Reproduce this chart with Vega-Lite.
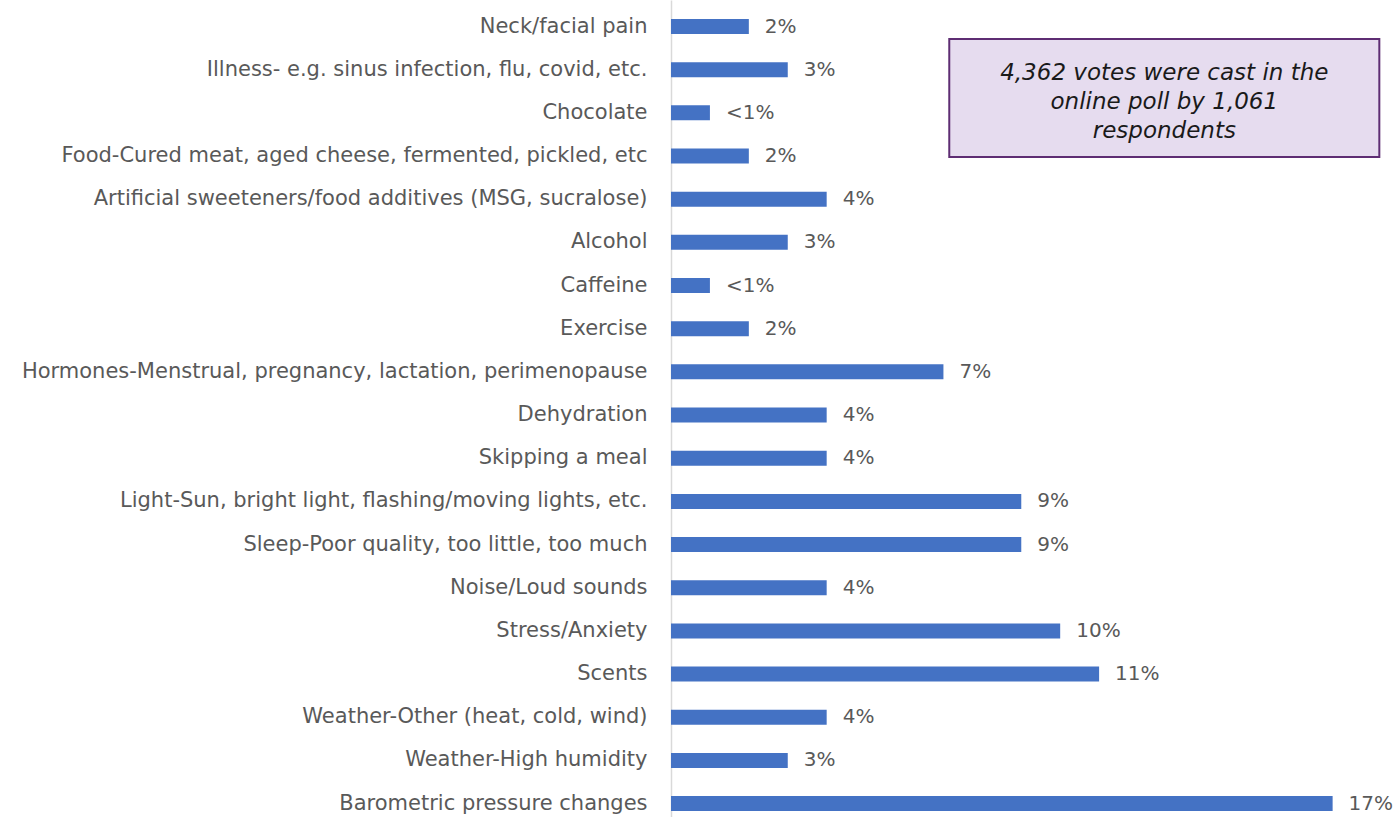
{
  "$schema": "https://vega.github.io/schema/vega-lite/v6.json",
  "width": 720,
  "height": 817,
  "autosize": {"type": "none"},
  "padding": {"left": 671, "top": 0, "right": 5, "bottom": 0},
  "background": "white",
  "config": {"view": {"stroke": null}, "font": "DejaVu Sans"},
  "datasets": {
    "causes": [
      {"cause": "Neck/facial pain", "value": 2, "label": "2%"},
      {"cause": "Illness- e.g. sinus infection, flu, covid, etc.", "value": 3, "label": "3%"},
      {"cause": "Chocolate", "value": 1, "label": "<1%"},
      {"cause": "Food-Cured meat, aged cheese, fermented, pickled, etc", "value": 2, "label": "2%"},
      {"cause": "Artificial sweeteners/food additives (MSG, sucralose)", "value": 4, "label": "4%"},
      {"cause": "Alcohol", "value": 3, "label": "3%"},
      {"cause": "Caffeine", "value": 1, "label": "<1%"},
      {"cause": "Exercise", "value": 2, "label": "2%"},
      {"cause": "Hormones-Menstrual, pregnancy, lactation, perimenopause", "value": 7, "label": "7%"},
      {"cause": "Dehydration", "value": 4, "label": "4%"},
      {"cause": "Skipping a meal", "value": 4, "label": "4%"},
      {"cause": "Light-Sun, bright light, flashing/moving lights, etc.", "value": 9, "label": "9%"},
      {"cause": "Sleep-Poor quality, too little, too much", "value": 9, "label": "9%"},
      {"cause": "Noise/Loud sounds", "value": 4, "label": "4%"},
      {"cause": "Stress/Anxiety", "value": 10, "label": "10%"},
      {"cause": "Scents", "value": 11, "label": "11%"},
      {"cause": "Weather-Other (heat, cold, wind)", "value": 4, "label": "4%"},
      {"cause": "Weather-High humidity", "value": 3, "label": "3%"},
      {"cause": "Barometric pressure changes", "value": 17, "label": "17%"}
    ],
    "note": [
      {"x1": 7.15, "x2": 18.2, "xm": 12.675, "y1": 0.29, "y2": 3.02, "ym": 1.239, "text": "4,362 votes were cast in the\nonline poll by 1,061\nrespondents"}
    ]
  },
  "layer": [
    {
      "data": {"name": "causes"},
      "layer": [
        {
          "mark": {"type": "bar", "color": "#4472C4"},
          "encoding": {
            "y": {
              "field": "cause", "type": "nominal", "sort": null,
              "scale": {"paddingInner": 0.6525, "paddingOuter": 0.289, "align": 0.762},
              "axis": {
                "title": null, "ticks": false, "labelPadding": 24,
                "labelFont": "DejaVu Sans", "labelFontSize": 21, "labelColor": "#595959",
                "labelLimit": 700, "domainColor": "#d9d9d9", "domainWidth": 1.5
              }
            },
            "x": {"field": "value", "type": "quantitative", "scale": {"domain": [0, 18.5], "nice": false, "zero": true}, "axis": null}
          }
        },
        {
          "mark": {"type": "text", "align": "left", "baseline": "middle", "dx": 16, "fontSize": 20, "font": "DejaVu Sans", "color": "#595959"},
          "encoding": {
            "y": {"field": "cause", "type": "nominal", "sort": null},
            "x": {"field": "value", "type": "quantitative"},
            "text": {"field": "label"}
          }
        }
      ]
    },
    {
      "data": {"name": "note"},
      "layer": [
        {
          "mark": {"type": "rect", "fill": "#e6dcef", "stroke": "#5e2d73", "strokeWidth": 2},
          "encoding": {
            "x": {"field": "x1", "type": "quantitative"},
            "x2": {"field": "x2"},
            "y": {"field": "y1", "type": "quantitative", "scale": {"domain": [-0.614, 18.311], "reverse": true, "nice": false, "zero": false}, "axis": null},
            "y2": {"field": "y2"}
          }
        },
        {
          "mark": {"type": "text", "align": "center", "baseline": "alphabetic", "fontSize": 23, "font": "DejaVu Sans", "fontStyle": "italic", "color": "#1a1a1a", "lineBreak": "\n", "lineHeight": 29},
          "encoding": {
            "x": {"field": "xm", "type": "quantitative"},
            "y": {"field": "ym", "type": "quantitative", "scale": {"domain": [-0.614, 18.311], "reverse": true, "nice": false, "zero": false}, "axis": null},
            "text": {"field": "text"}
          }
        }
      ],
      "resolve": {"scale": {"y": "shared"}}
    }
  ],
  "resolve": {"scale": {"y": "independent"}}
}
